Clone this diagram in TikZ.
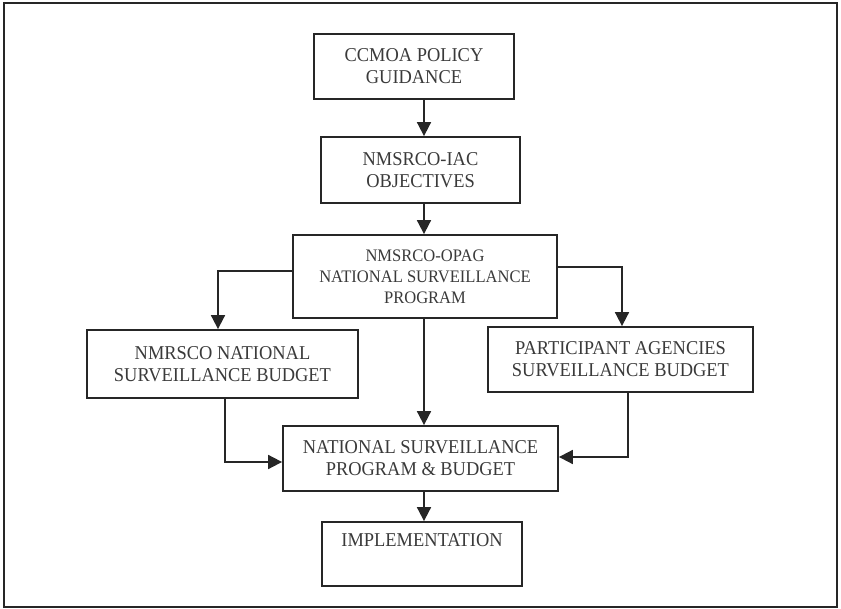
\documentclass[tikz,border=0pt]{standalone}
\usepackage{fontspec}
\setmainfont[FakeStretch=0.94]{Liberation Serif}
\usetikzlibrary{arrows.meta}
\definecolor{linec}{HTML}{262626}
\definecolor{textc}{HTML}{3A3A3A}
\begin{document}
\begin{tikzpicture}[x=1pt,y=-1pt,
  box/.style={draw=linec, line width=1.8pt, text=textc, align=center,
    inner sep=0pt, font=\fontsize{19.6}{22}\selectfont},
  smallbox/.style={box, font=\fontsize{17.6}{21}\selectfont},
  flow/.style={draw=linec, line width=1.8pt,
    -{Triangle[length=14pt,width=14pt]}},
]
\useasboundingbox (0,0) rectangle (841,609);
% outer frame
\draw[linec, line width=1.5pt] (4,3) rectangle (837,607);

% boxes
\node[box, minimum width=200pt, minimum height=65pt] (ccmoa) at (414,66.5)
  {CCMOA POLICY\\GUIDANCE};
\node[box, minimum width=199pt, minimum height=66pt] (iac) at (420.5,170)
  {NMSRCO-IAC\\OBJECTIVES};
\node[smallbox, minimum width=264pt, minimum height=83pt] (opag) at (425,276.5)
  {NMSRCO-OPAG\\NATIONAL SURVEILLANCE\\PROGRAM};
\node[box, minimum width=271pt, minimum height=68pt] (nmrsco) at (222.5,364)
  {NMRSCO NATIONAL\\SURVEILLANCE BUDGET};
\node[box, minimum width=265pt, minimum height=65pt] (part) at (620.5,359.5)
  {PARTICIPANT AGENCIES\\SURVEILLANCE BUDGET};
\node[box, minimum width=275pt, minimum height=65pt] (natl) at (420.5,458.5)
  {NATIONAL SURVEILLANCE\\PROGRAM \& BUDGET};
\node[box, minimum width=200pt, minimum height=64pt] (impl) at (422,554)
  {IMPLEMENTATION\\\strut};

% routing points
\coordinate (spine) at (424,0);
\coordinate (lb) at (218,271);
\coordinate (rb) at (622,267);
\coordinate (ll) at (225,462);
\coordinate (rl) at (628,457);

% connectors
\draw[flow] (ccmoa.south -| spine) -- (iac.north -| spine);
\draw[flow] (iac.south -| spine) -- (opag.north -| spine);
\draw[flow] (opag.west |- lb) -- (lb) -- (nmrsco.north -| lb);
\draw[flow] (opag.east |- rb) -- (rb) -- (part.north -| rb);
\draw[flow] (opag.south -| spine) -- (natl.north -| spine);
\draw[flow] (nmrsco.south -| ll) -- (ll) -- (natl.west |- ll);
\draw[flow] (part.south -| rl) -- (rl) -- (natl.east |- rl);
\draw[flow] (natl.south -| spine) -- (impl.north -| spine);
\end{tikzpicture}
\end{document}
